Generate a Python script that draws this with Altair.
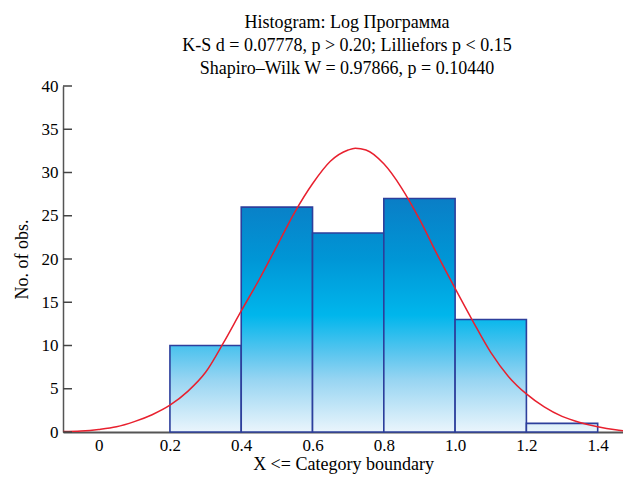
import altair as alt
import pandas as pd

# Histogram bins (upper category boundaries) and counts
bin_start = [0.2, 0.4, 0.6, 0.8, 1.0, 1.2]
bin_end = [0.4, 0.6, 0.8, 1.0, 1.2, 1.4]
counts = [10, 26, 23, 27, 13, 1]

# Fitted normal curve
curve_x = [-0.1, -0.05, 0.0, 0.05, 0.1, 0.15, 0.2, 0.25, 0.3, 0.35, 0.4, 0.45, 0.5, 0.55,
           0.6, 0.65, 0.7, 0.72, 0.75, 0.8, 0.85, 0.9, 0.95, 1.0, 1.05, 1.1, 1.15, 1.2,
           1.25, 1.3, 1.35, 1.4, 1.45, 1.5]
curve_y = [0.05, 0.12, 0.3, 0.6, 1.2, 2.0, 3.1, 4.7, 6.9, 10.3, 14.0, 17.6, 21.5, 25.4,
           28.7, 31.3, 32.6, 32.8, 32.6, 31.0, 28.2, 24.6, 20.5, 16.6, 12.8, 9.2, 6.4, 4.4,
           2.9, 1.8, 1.1, 0.6, 0.25, 0.05]

x_ticks = [0, 0.2, 0.4, 0.6, 0.8, 1.0, 1.2, 1.4]
y_ticks = [0, 5, 10, 15, 20, 25, 30, 35, 40]

title_lines = ["Histogram: Log Программа",
               "K-S d = 0.07778, p > 0.20; Lilliefors p < 0.15",
               "Shapiro\u2013Wilk W = 0.97866, p = 0.10440"]

FONT = "Liberation Serif"
X_DOMAIN = [-0.1, 1.471]
Y_DOMAIN = [0, 40]

# colour ramp by absolute count level (style)
ramp = [(0, "#eaf5fc"), (6, "#98d5f2"), (9, "#5cc6ef"), (13.5, "#00b6ec"),
        (20, "#0096d6"), (27, "#0a7ec6")]


def hex2rgb(h):
    return tuple(int(h[i:i + 2], 16) for i in (1, 3, 5))


def rgb2hex(c):
    return "#%02x%02x%02x" % tuple(int(round(v)) for v in c)


def color_at(level):
    for (l0, c0), (l1, c1) in zip(ramp[:-1], ramp[1:]):
        if l0 <= level <= l1:
            t = (level - l0) / (l1 - l0)
            a, b = hex2rgb(c0), hex2rgb(c1)
            return rgb2hex([a[i] + (b[i] - a[i]) * t for i in range(3)])
    return ramp[-1][1]


def gradient_for(h):
    stops = [{"offset": 0, "color": color_at(h)}]
    for lvl, col in reversed(ramp):
        if 0 < lvl < h:
            stops.append({"offset": (h - lvl) / h, "color": col})
    stops.append({"offset": 1, "color": ramp[0][1]})
    return alt.Gradient(gradient="linear", x1=0, y1=0, x2=0, y2=1, stops=stops)


xscale = alt.Scale(domain=X_DOMAIN, nice=False, zero=False)
yscale = alt.Scale(domain=Y_DOMAIN, nice=False)

bars_df = pd.DataFrame({"start": bin_start, "end": bin_end, "count": counts})

x_axis = alt.Axis(values=x_ticks, labelExpr="datum.value == 0 ? '0' : format(datum.value, '.1f')",
                  title="X <= Category boundary", grid=False, ticks=False,
                  domainColor="#555555", domainWidth=2, labelFont=FONT, labelFontSize=17,
                  labelColor="black", labelPadding=5, titleFont=FONT, titleFontSize=18,
                  titleFontWeight="normal", titleColor="black", titlePadding=2)
y_axis = alt.Axis(values=y_ticks, title="No. of obs.", grid=False, ticks=False,
                  domainColor="#555555", domainWidth=1.5, labelFont=FONT, labelFontSize=17,
                  labelColor="black", labelPadding=5, titleFont=FONT, titleFontSize=18,
                  titleFontWeight="normal", titleColor="black", titlePadding=10)

layers = []
for i in range(len(counts)):
    sub = bars_df.iloc[[i]]
    b = alt.Chart(sub).mark_bar(fill=gradient_for(counts[i]), stroke="#2d3f9c",
                                strokeWidth=1.6).encode(
        x=alt.X("start:Q", scale=xscale, axis=x_axis),
        x2="end:Q",
        y=alt.Y("count:Q", scale=yscale, axis=y_axis),
        y2=alt.datum(0),
    )
    layers.append(b)

curve = alt.Chart(pd.DataFrame({"x": curve_x, "y": curve_y})).mark_line(
    color="#e8202e", strokeWidth=1.5, interpolate="monotone", clip=True).encode(
    x=alt.X("x:Q", scale=xscale, axis=x_axis),
    y=alt.Y("y:Q", scale=yscale, axis=y_axis),
)

ticks = alt.Chart(pd.DataFrame({"t": y_ticks})).mark_rule(
    color="#444444", strokeWidth=1.5).encode(
    y=alt.Y("t:Q", scale=yscale, axis=y_axis),
    x=alt.value(0),
    x2=alt.value(9),
)

chart = alt.layer(*layers, curve, ticks).properties(
    width=560, height=346,
    padding={"left": 55, "top": 78, "right": 0, "bottom": 44},
    autosize=alt.AutoSizeParams(type="none"),
    title=alt.TitleParams(text=title_lines, font=FONT, fontSize=18, fontWeight="normal",
                          color="black", lineHeight=23, anchor="middle", offset=8, dx=4,
                          dy=9),
).configure(background="white").configure_view(stroke=None)

chart.save("out.html", embed_options={"renderer": "svg", "actions": False})
